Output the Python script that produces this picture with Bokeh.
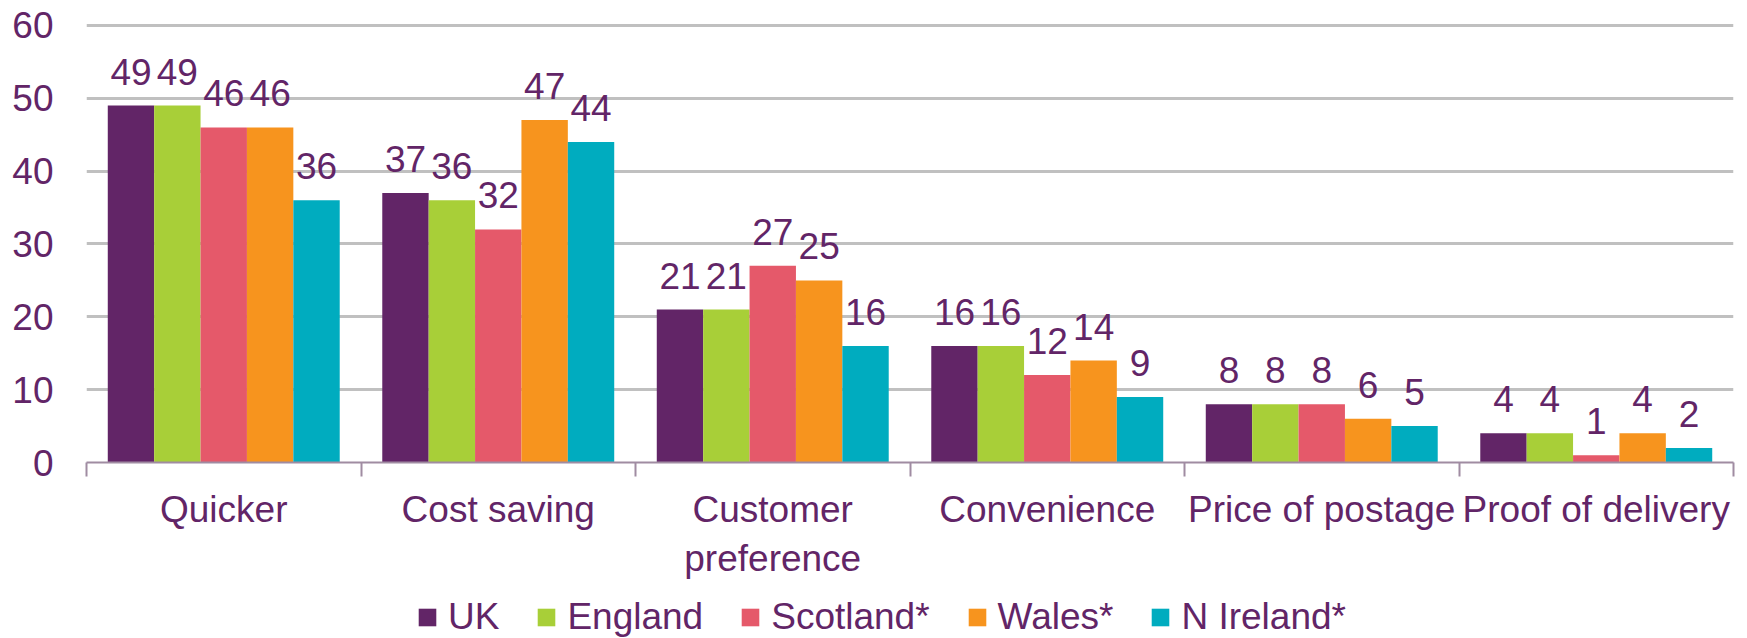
from bokeh.plotting import figure
from bokeh.layouts import column
from bokeh.models import (Range1d, LinearAxis, FixedTicker, Legend, LegendItem,
                          ColumnDataSource, Grid)
from bokeh.core.properties import value
from bokeh.embed import file_html
from bokeh.resources import INLINE

categories = ["Quicker", "Cost saving", "Customer\npreference", "Convenience",
              "Price of postage", "Proof of delivery"]
series_names = ["UK", "England", "Scotland*", "Wales*", "N Ireland*"]
uk = [49, 37, 21, 16, 8, 4]
england = [49, 36, 21, 16, 8, 4]
scotland = [46, 32, 27, 12, 8, 1]
wales = [46, 47, 25, 14, 6, 4]
n_ireland = [36, 44, 16, 9, 5, 2]
y_ticks = [0, 10, 20, 30, 40, 50, 60]

series_values = [uk, england, scotland, wales, n_ireland]
colors = ["#622567", "#A8CF38", "#E5596A", "#F7941E", "#00ACBF"]
text_color = "#622567"
font = "Liberation Sans"

p = figure(width=1747, height=588, output_backend="svg", toolbar_location=None,
           x_range=Range1d(0, len(categories)), y_range=Range1d(0, 60.4),
           x_axis_type=None, y_axis_type=None,
           min_border_left=86, min_border_right=14, min_border_top=22,
           min_border_bottom=126)
p.outline_line_color = None
p.background_fill_color = "white"

p.add_layout(Grid(dimension=1, ticker=FixedTicker(ticks=y_ticks),
                  grid_line_color="#C0C0C0", grid_line_width=3))

bar_w = 0.169
for j, (name, vals) in enumerate(zip(series_names, series_values)):
    xs = [i + 0.5 + (j - 2) * bar_w for i in range(len(categories))]
    src = ColumnDataSource(dict(x=xs, top=vals, label=[str(v) for v in vals]))
    p.vbar(x="x", top="top", bottom=0, width=bar_w, source=src,
           fill_color=colors[j], line_color=None)
    p.text(x="x", y="top", text="label", source=src, text_align="center",
           text_baseline="middle", y_offset=-34,
           text_font=value(font), text_font_size="37px", text_color=text_color)

# y axis
yaxis = LinearAxis(ticker=FixedTicker(ticks=y_ticks))
yaxis.axis_line_color = None
yaxis.major_tick_line_color = None
yaxis.minor_tick_line_color = None
yaxis.major_tick_out = 0
yaxis.major_tick_in = 0
yaxis.major_label_standoff = 33
yaxis.major_label_text_font = font
yaxis.major_label_text_font_size = "37px"
yaxis.major_label_text_color = text_color
p.add_layout(yaxis, "left")

# x axis
centers = [i + 0.5 for i in range(len(categories))]
bounds = [float(i) for i in range(len(categories) + 1)]
xaxis = LinearAxis(ticker=FixedTicker(ticks=centers, minor_ticks=bounds))
xaxis.major_label_overrides = {c: lab for c, lab in zip(centers, categories)}
xaxis.axis_line_color = "#A08CA2"
xaxis.axis_line_width = 2
xaxis.major_tick_line_color = None
xaxis.major_tick_out = 0
xaxis.major_tick_in = 0
xaxis.minor_tick_line_color = "#A08CA2"
xaxis.minor_tick_line_width = 2
xaxis.minor_tick_out = 14
xaxis.minor_tick_in = 0
xaxis.major_label_standoff = 12
xaxis.major_label_text_font = font
xaxis.major_label_text_font_size = "37px"
xaxis.major_label_text_color = text_color
p.add_layout(xaxis, "below")

# legend strip
lg = figure(width=1747, height=50, output_backend="svg", toolbar_location=None,
            x_range=Range1d(0, 1), y_range=Range1d(0, 1),
            x_axis_type=None, y_axis_type=None,
            min_border_left=0, min_border_right=0, min_border_top=0,
            min_border_bottom=0)
lg.outline_line_color = None
lg.xgrid.visible = False
lg.ygrid.visible = False
dummies = [lg.vbar(x=[-5.0], top=[0.0], bottom=[0.0], width=0.1, fill_color=c, line_color=None)
           for c in colors]
legend = Legend(items=[LegendItem(label=n, renderers=[r]) for n, r in zip(series_names, dummies)],
                orientation="horizontal", location=(330, 0))
legend.glyph_width = 22
legend.glyph_height = 22
legend.label_standoff = 10
legend.spacing = 36
legend.padding = 0
legend.margin = 0
legend.border_line_color = None
legend.background_fill_alpha = 0
legend.label_text_font = font
legend.label_text_font_size = "37px"
legend.label_text_color = text_color
lg.add_layout(legend, "center")

layout = column(p, lg, spacing=0)
open("out.html", "w").write(file_html(layout, INLINE))
